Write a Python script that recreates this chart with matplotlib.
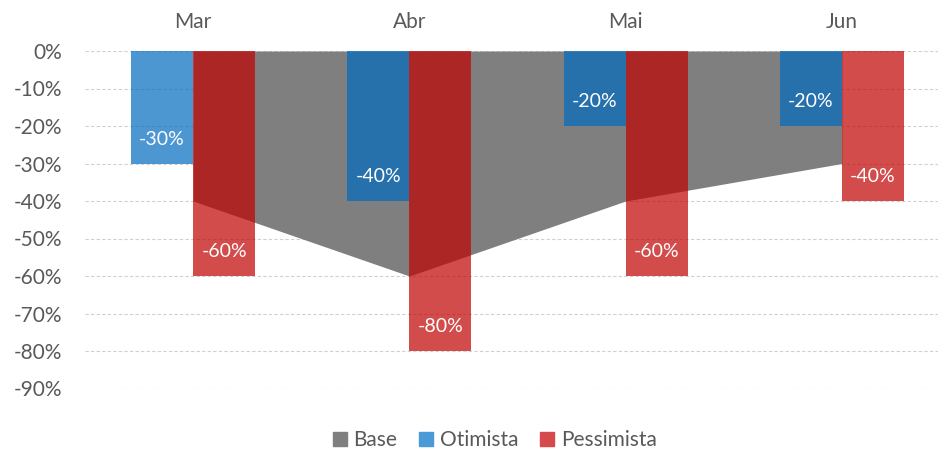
import matplotlib
matplotlib.use("Agg")
import matplotlib.pyplot as plt
import numpy as np
from matplotlib.ticker import FuncFormatter
from matplotlib.lines import Line2D

categories = ["Mar", "Abr", "Mai", "Jun"]
base = [-40, -60, -40, -30]
otimista = [-30, -40, -20, -20]
pessimista = [-60, -80, -60, -40]
yticks = [0, -10, -20, -30, -40, -50, -60, -70, -80, -90]

plt.rcParams['font.family'] = ['Lato', 'DejaVu Sans']
text_color = '#595959'

fig = plt.figure(figsize=(9.38, 4.49), dpi=100)
ax = fig.add_axes([85/938, 1 - 388.5/449, 865/938, (388.5 - 51)/449])

x = np.arange(len(categories))
w = 0.287

ax.fill_between(x, 0, base, color='#7F7F7F', linewidth=0, zorder=1, label='Base')
ax.bar(x - w/2, otimista, width=w, color='#006AC0', alpha=0.70, zorder=2, label='Otimista')
ax.bar(x + w/2, pessimista, width=w, color='#C00000', alpha=0.70, zorder=2, label='Pessimista')

for xs, vals in ((x - w/2, otimista), (x + w/2, pessimista)):
    for xi, v in zip(xs, vals):
        ax.annotate(f"{v}%", (xi, v), xytext=(0, 17.5), textcoords='offset points',
                    ha='center', va='center', color='white', fontsize=14, zorder=5)

ax.set_xlim(-0.5, 3.5)
ax.set_ylim(-90, 0)
ax.set_yticks(yticks)
ax.yaxis.set_major_formatter(FuncFormatter(lambda v, p: f"{int(round(v))}%"))
ax.set_xticks(x)
ax.set_xticklabels(categories)
ax.xaxis.tick_top()
ax.tick_params(axis='both', length=0, labelsize=15, labelcolor=text_color)
ax.tick_params(axis='x', pad=14)
ax.tick_params(axis='y', pad=16.5)
for s in ax.spines.values():
    s.set_visible(False)
ax.set_axisbelow(True)
ax.grid(axis='y', color='#D0D0D0', linestyle=(0, (3, 2)), linewidth=0.8, zorder=0)

handles = [
    Line2D([], [], marker='s', linestyle='none', markersize=10, color='#7F7F7F'),
    Line2D([], [], marker='s', linestyle='none', markersize=10, color='#4A9BD5'),
    Line2D([], [], marker='s', linestyle='none', markersize=10, color='#D54B4D'),
]
fig.legend(handles, ['Base', 'Otimista', 'Pessimista'], loc='center', bbox_to_anchor=(493/938, 1 - 440/449),
           ncol=3, frameon=False, fontsize=15, labelcolor=text_color, handletextpad=0.15,
           columnspacing=0.9, handlelength=1.0)

fig.savefig("out.png", dpi=100)
